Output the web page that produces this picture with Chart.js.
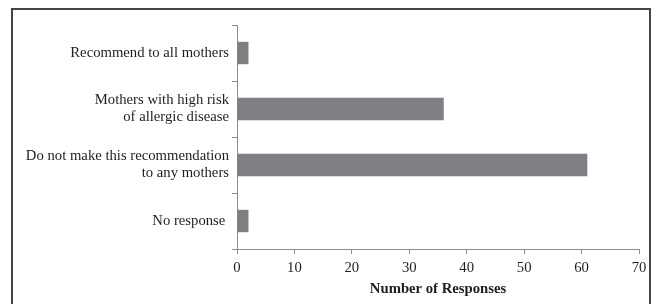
<!DOCTYPE html>
<html>
<head>
<meta charset="utf-8">
<script src="https://cdn.jsdelivr.net/npm/chart.js@4/dist/chart.umd.min.js"></script>
<style>
    html, body { margin: 0; padding: 0; background: #fff; }
    #wrap { position: relative; width: 658px; height: 304px; }
    #frame {
        position: absolute; left: 11px; top: 8px; width: 640px; height: 310px;
        border: 2px solid #444; box-sizing: border-box;
    }
    canvas { position: absolute; left: 0; top: 0; }
</style>
</head>
<body>
<div id="wrap">
    <div id="frame"></div>
    <canvas id="responsesChart" width="658" height="304"></canvas>
</div>
<script>
    var categories = [
        'Recommend to all mothers',
        ['Mothers with high risk', 'of allergic disease'],
        ['Do not make this recommendation', 'to any mothers'],
        'No response '
    ];
    var responses = [2, 36, 61, 2];
    var xTicks = [0, 10, 20, 30, 40, 50, 60, 70];

    var serif = "'Liberation Serif', 'Times New Roman', serif";
    var axisColor = '#8c8c8c';
    var textColor = '#1e1e1e';

    const ctx = document.getElementById('responsesChart');
    new Chart(ctx, {
        type: 'bar',
        data: {
            labels: categories,
            datasets: [{
                data: responses,
                backgroundColor: '#7e7f83',
                borderWidth: 0,
                categoryPercentage: 1,
                barPercentage: 0.4,
            }]
        },
        options: {
            indexAxis: 'y',
            responsive: false,
            animation: false,
            layout: { padding: { top: 25, right: 19, left: 0, bottom: 0 } },
            plugins: {
                legend: { display: false },
                tooltip: { enabled: false },
            },
            scales: {
                y: {
                    afterFit: function(scale) { scale.width = 237; },
                    grid: {
                        drawOnChartArea: false,
                        drawTicks: true,
                        tickLength: 5,
                        color: axisColor,
                        offset: true,
                    },
                    border: { display: true, color: axisColor, width: 1 },
                    ticks: {
                        color: textColor,
                        padding: 3,
                        font: { family: serif, size: 14.7, lineHeight: 1.15 },
                    },
                },
                x: {
                    min: 0,
                    max: 70,
                    afterFit: function(scale) { scale.height = 55; },
                    afterBuildTicks: function(scale) {
                        scale.ticks = xTicks.map(function(v) { return { value: v }; });
                    },
                    grid: {
                        drawOnChartArea: false,
                        drawTicks: true,
                        tickLength: 5,
                        color: axisColor,
                    },
                    border: { display: true, color: axisColor, width: 1 },
                    ticks: {
                        color: textColor,
                        padding: 5,
                        maxRotation: 0,
                        font: { family: serif, size: 14.7 },
                    },
                    title: {
                        display: true,
                        text: 'Number of Responses',
                        color: textColor,
                        padding: { top: 0, bottom: 6 },
                        font: { family: serif, size: 14.7, weight: 'bold' },
                    },
                },
            },
        },
    });
</script>
</body>
</html>
